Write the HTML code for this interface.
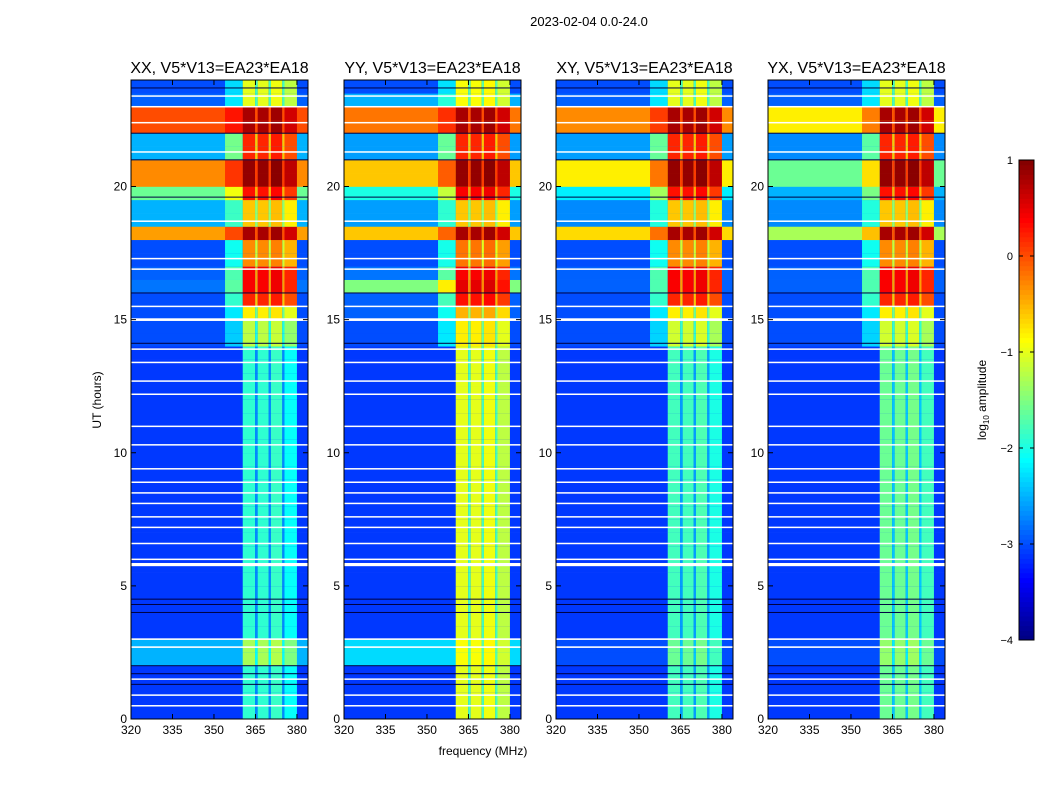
<!DOCTYPE html>
<html><head><meta charset="utf-8"><style>
body{margin:0;background:#fff;font-family:"Liberation Sans",sans-serif;}
svg text{font-family:"Liberation Sans",sans-serif;}
</style></head><body>
<svg id="fig" width="1050" height="800" xmlns="http://www.w3.org/2000/svg">
<text x="589" y="26" font-size="13" text-anchor="middle">2023-02-04 0.0-24.0</text>
<text transform="translate(101,400) rotate(-90)" font-size="12" text-anchor="middle">UT (hours)</text>
<text x="483" y="755" font-size="12" text-anchor="middle">frequency (MHz)</text>
<g id="panels"></g>
<g id="cbar"></g>
</svg>
<script>
const panelTitles=["XX, V5*V13=EA23*EA18","YY, V5*V13=EA23*EA18","XY, V5*V13=EA23*EA18","YX, V5*V13=EA23*EA18"];
const xTicks=[320,335,350,365,380];
const yTicks=[0,5,10,15,20];
const cbTicks=[1,0,-1,-2,-3,-4];
// band sub-columns: [fStart,fEnd,offset relative to band level]
const bandCols=[[360.4,364.9,0],[364.9,365.8,-0.8],[365.8,369.8,0],[369.8,370.6,-0.8],[370.6,374.7,0.05],[374.7,375.5,-0.8],[375.5,380,-0.2]];
// 0.5-hour rows, background level and band level per panel
const xxBg=[-3.1,-3.1,-3.1,-3.1,-2.5,-2.5,-3.1,-3.1,-3.1,-3.1,-3.1,-3.1,-3.1,-3.1,-3.1,-3.1,-3.1,-3.1,-3.1,-3.1,-3.1,-3.1,-3.1,-3.1,-3.1,-3.1,-3.1,-3.1,-3.0,-3.0,-3.0,-3.0,-2.8,-2.9,-3.0,-3.0,-0.4,-2.5,-2.5,-1.6,-0.3,-0.3,-2.5,-2.5,0.0,0.0,-2.9,-3.0];
const xxBand=[-1.9,-1.9,-1.9,-1.9,-1.3,-1.3,-1.9,-1.9,-1.9,-1.9,-1.9,-1.9,-1.9,-1.9,-1.9,-1.9,-1.9,-1.9,-1.9,-1.9,-1.9,-1.9,-1.9,-1.9,-1.9,-1.9,-1.9,-1.9,-1.2,-1.2,-0.8,0.2,0.4,0.4,-0.3,-0.3,0.8,-0.6,-0.6,0.3,0.9,0.9,0.2,0.2,0.8,0.8,-1.0,-1.0];
const yyBg=[-3.1,-3.1,-3.1,-3.1,-2.3,-2.3,-3.1,-3.1,-3.1,-3.1,-3.1,-3.1,-3.1,-3.1,-3.1,-3.1,-3.1,-3.1,-3.1,-3.1,-3.1,-3.1,-3.1,-3.1,-3.1,-3.1,-3.1,-3.1,-3.0,-3.0,-2.9,-2.9,-1.5,-2.8,-3.0,-3.0,-0.6,-2.6,-2.6,-2.0,-0.6,-0.6,-2.6,-2.6,-0.2,-0.2,-2.5,-3.0];
const yyBand=[-1.0,-1.0,-1.0,-1.0,-0.9,-0.9,-1.0,-1.0,-1.0,-1.0,-1.0,-1.0,-1.0,-1.0,-1.0,-1.0,-1.0,-1.0,-1.0,-1.0,-1.0,-1.0,-1.0,-1.0,-1.0,-1.0,-1.0,-1.0,-0.8,-0.8,-0.5,0.3,0.5,0.4,-0.2,-0.2,0.8,-0.6,-0.6,0.4,0.9,0.9,0.2,0.2,0.8,0.8,-0.9,-0.9];
const xyBg=[-3.1,-3.1,-3.1,-3.1,-3.0,-3.0,-3.1,-3.1,-3.1,-3.1,-3.1,-3.1,-3.1,-3.1,-3.1,-3.1,-3.1,-3.1,-3.1,-3.1,-3.1,-3.1,-3.1,-3.1,-3.1,-3.1,-3.1,-3.1,-3.0,-3.0,-3.0,-3.0,-2.9,-2.9,-3.0,-3.0,-0.7,-2.7,-2.7,-2.2,-0.8,-0.8,-2.6,-2.6,-0.3,-0.3,-2.9,-3.0];
const xyBand=[-1.8,-1.8,-1.8,-1.8,-1.6,-1.6,-1.8,-1.8,-1.8,-1.8,-1.8,-1.8,-1.8,-1.8,-1.8,-1.8,-1.8,-1.8,-1.8,-1.8,-1.8,-1.8,-1.8,-1.8,-1.8,-1.8,-1.8,-1.8,-1.1,-1.1,-0.8,0.2,0.4,0.4,-0.3,-0.3,0.8,-0.6,-0.6,0.3,0.9,0.9,0.2,0.2,0.8,0.8,-1.0,-1.0];
const yxBg=[-3.1,-3.1,-3.1,-3.1,-3.0,-3.0,-3.1,-3.1,-3.1,-3.1,-3.1,-3.1,-3.1,-3.1,-3.1,-3.1,-3.1,-3.1,-3.1,-3.1,-3.1,-3.1,-3.1,-3.1,-3.1,-3.1,-3.1,-3.1,-3.0,-3.0,-3.0,-3.0,-2.9,-2.9,-3.0,-3.0,-1.3,-2.7,-2.7,-2.5,-1.6,-1.6,-2.7,-2.7,-0.8,-0.8,-2.9,-3.0];
const yxBand=[-1.6,-1.6,-1.6,-1.6,-1.4,-1.4,-1.6,-1.6,-1.6,-1.6,-1.6,-1.6,-1.6,-1.6,-1.6,-1.6,-1.6,-1.6,-1.6,-1.6,-1.6,-1.6,-1.6,-1.6,-1.6,-1.6,-1.6,-1.6,-1.1,-1.1,-0.8,0.2,0.4,0.4,-0.3,-0.3,0.8,-0.6,-0.6,0.3,0.9,0.9,0.2,0.2,0.8,0.8,-1.0,-1.0];
// flagged (white) gaps: [time, thickness hours]
const whiteGaps=[[0.5,0.05],[0.9,0.05],[1.5,0.05],[2.7,0.06],[3.0,0.06],[5.8,0.12],[6.0,0.05],[6.6,0.04],[7.2,0.05],[7.6,0.04],[8.1,0.05],[8.5,0.04],[8.9,0.04],[9.4,0.05],[10.3,0.05],[11.0,0.04],[12.2,0.05],[12.7,0.04],[13.4,0.04],[13.9,0.04],[15.0,0.1],[15.5,0.05],[16.9,0.05],[17.3,0.04],[18.7,0.05],[21.3,0.05],[22.4,0.05],[23.0,0.05],[23.4,0.05]];
const darkLines=[[1.3,0.04],[1.7,0.04],[2.0,0.04],[4.0,0.04],[4.3,0.04],[4.5,0.04],[14.1,0.06],[16.0,0.04],[19.6,0.04],[21.0,0.04],[22.0,0.04],[23.7,0.04]];

const panelBg=[xxBg,yyBg,xyBg,yxBg];
const panelBand=[xxBand,yyBand,xyBand,yxBand];
const panelX=[131,344,556,768];
const PW=177,PT=80,PB=719;
const NS="http://www.w3.org/2000/svg";
function jet(v){let t=(v+4)/5;t=Math.max(0,Math.min(1,t));
 const r=Math.min(1,Math.max(0,1.5-Math.abs(4*t-3))),g=Math.min(1,Math.max(0,1.5-Math.abs(4*t-2))),b=Math.min(1,Math.max(0,1.5-Math.abs(4*t-1)));
 return `rgb(${Math.round(r*255)},${Math.round(g*255)},${Math.round(b*255)})`;}
function mk(tag,attrs,parent){const e=document.createElementNS(NS,tag);for(const k in attrs)e.setAttribute(k,attrs[k]);parent.appendChild(e);return e;}
const root=document.getElementById('panels');
panelX.forEach((x0,p)=>{
 const xs=f=>x0+(f-320)/(384-320)*PW;
 const ys=t=>PB-(t/24)*(PB-PT);
 const g=mk('g',{},root);
 
 
 const bg=panelBg[p],band=panelBand[p];
 bg.forEach((v,i)=>{
  const y1=ys((i+1)*0.5),y0=ys(i*0.5);
  const r=mk('rect',{x:xs(320),y:y1,width:xs(384)-xs(320),height:y0-y1+0.3,fill:jet(v)},g);
  
  
  if(i>=28){
   const rt=mk('rect',{x:xs(354),y:y1,width:xs(360.4)-xs(354),height:y0-y1+0.3,fill:jet(v+0.35*(band[i]-v))},g);
   
   
  }
  bandCols.forEach(c=>{
   const rc=mk('rect',{x:xs(c[0]),y:y1,width:xs(c[1])-xs(c[0]),height:y0-y1+0.3,fill:jet(band[i]+c[2])},g);
   
   
  });
 });
 whiteGaps.forEach(w=>{const y=ys(w[0]+w[1]/2);const r=mk('rect',{x:x0,y:y,width:PW,height:Math.max(1.5,w[1]/24*(PB-PT)),fill:'#fff'},g);
  });
 darkLines.forEach(w=>{const y=ys(w[0]+w[1]/2);const r=mk('rect',{x:x0,y:y,width:PW,height:1,fill:'#000040'},g);
  });
 const fr=mk('rect',{x:x0,y:PT,width:PW,height:PB-PT,fill:'none',stroke:'#000','stroke-width':1},g);
 
 const tt=mk('text',{x:x0+PW/2,y:PT-7,'font-size':16,'text-anchor':'middle'},g);tt.textContent=panelTitles[p];
 
 xTicks.forEach(f=>{const x=xs(f);mk('line',{x1:x,x2:x,y1:PB,y2:PB-5,stroke:'#000'},g);mk('line',{x1:x,x2:x,y1:PT,y2:PT+5,stroke:'#000'},g);
  const t=mk('text',{x:x,y:PB+15,'font-size':12,'text-anchor':'middle'},g);t.textContent=f;
  });
 yTicks.forEach(v=>{const y=ys(v);mk('line',{x1:x0,x2:x0+5,y1:y,y2:y,stroke:'#000'},g);mk('line',{x1:x0+PW,x2:x0+PW-5,y1:y,y2:y,stroke:'#000'},g);
  const t=mk('text',{x:x0-4,y:y+4,'font-size':12,'text-anchor':'end'},g);t.textContent=v;
  });
});
// colorbar
const cb=document.getElementById('cbar');


const CX=1019,CW=15,CT=160,CB=640;
const cy=v=>CB-(v+4)/5*(CB-CT);
for(let k=0;k<100;k++){const v0=-4+k*0.05;mk('rect',{x:CX,y:cy(v0+0.05),width:CW,height:(CB-CT)/100+0.5,fill:jet(v0+0.025)},cb);}
mk('rect',{x:CX,y:CT,width:CW,height:CB-CT,fill:'none',stroke:'#000'},cb);
cbTicks.forEach(v=>{const y=cy(v);mk('line',{x1:CX,x2:CX+4,y1:y,y2:y,stroke:'#000'},cb);mk('line',{x1:CX+CW,x2:CX+CW-4,y1:y,y2:y,stroke:'#000'},cb);
 const t=mk('text',{x:CX-6,y:y+4,'font-size':11,'text-anchor':'end'},cb);t.textContent=(v<0?'\u2212'+(-v):v);
 });
const cl=mk('text',{transform:'translate(986,400) rotate(-90)','font-size':12,'text-anchor':'middle'},cb);
cl.innerHTML='log<tspan font-size="8" dy="3">10</tspan><tspan dy="-3"> amplitude</tspan>';

</script>
</body></html>
